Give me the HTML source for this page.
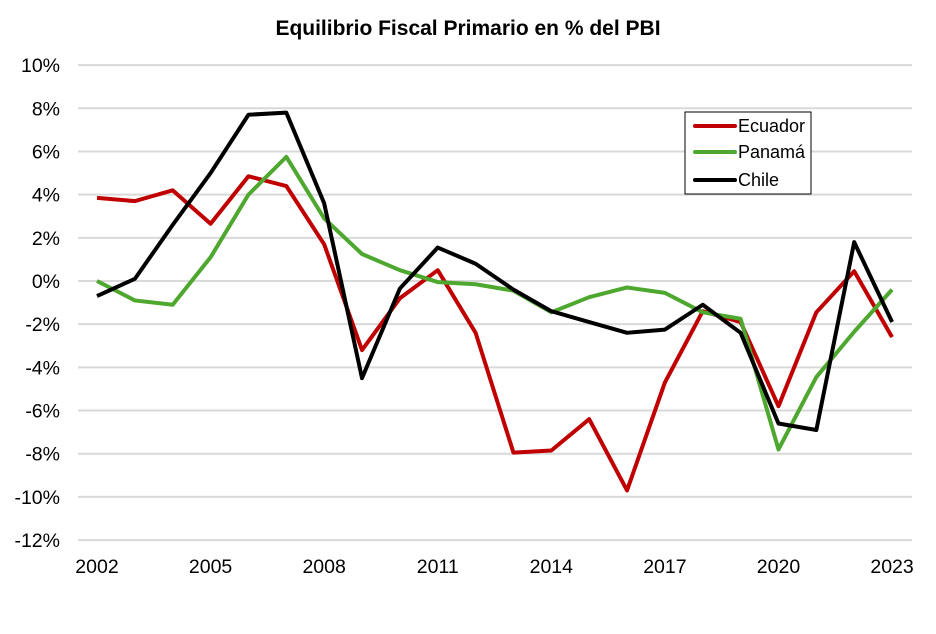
<!DOCTYPE html>
<html><head><meta charset="utf-8"><style>body{margin:0;background:#fff}svg{display:block}text{font-family:"Liberation Sans",Arial,sans-serif}</style></head>
<body>
<svg id="s" width="936" height="634" xmlns="http://www.w3.org/2000/svg">
<text x="468" y="35" text-anchor="middle" font-size="21" font-weight="bold">Equilibrio Fiscal Primario en % del PBI</text>
<g id="grid"></g>
<g id="lines" fill="none" stroke-width="4" stroke-linejoin="round"></g>
<rect x="685" y="112" width="126" height="82" fill="#fff" stroke="#000" stroke-width="1"/>
<line x1="695" y1="126" x2="735" y2="126" stroke="#c00000" stroke-width="4" stroke-linecap="round"/>
<line x1="695" y1="152" x2="735" y2="152" stroke="#4ea72e" stroke-width="4" stroke-linecap="round"/>
<line x1="695" y1="180" x2="735" y2="180" stroke="#000" stroke-width="4" stroke-linecap="round"/>
<text x="738" y="132" font-size="18">Ecuador</text>
<text x="738" y="158" font-size="18">Panamá</text>
<text x="738" y="186" font-size="18">Chile</text>
</svg>
<script>
const NS="http://www.w3.org/2000/svg";
const Y=v=>281-v*21.59, X=yr=>97+(yr-2002)*37.86;
const g=document.getElementById('grid');
function el(p,t,a,txt){const e=document.createElementNS(NS,t);for(const k in a)e.setAttribute(k,a[k]);if(txt!=null)e.textContent=txt;p.appendChild(e);return e;}
for(let v=10;v>=-12;v-=2){el(g,'line',{x1:78,x2:912,y1:Y(v),y2:Y(v),stroke:'#d9d9d9','stroke-width':2});
el(g,'text',{x:60,y:Y(v)+7,'text-anchor':'end','font-size':19.5},v+'%');}
for(let yr=2002;yr<=2023;yr+=3)el(g,'text',{x:X(yr),y:573,'text-anchor':'middle','font-size':19.5},yr);
const d={
'#c00000':[3.85,3.7,4.2,2.65,4.85,4.4,1.7,-3.2,-0.8,0.5,-2.4,-7.95,-7.85,-6.4,-9.7,-4.7,-1.4,-1.9,-5.8,-1.45,0.45,-2.6],
'#4ea72e':[0,-0.9,-1.1,1.1,4.0,5.75,2.9,1.25,0.5,-0.05,-0.15,-0.45,-1.45,-0.75,-0.3,-0.55,-1.45,-1.75,-7.8,-4.45,-2.35,-0.4],
'#000000':[-0.7,0.1,2.6,5.0,7.7,7.8,3.6,-4.5,-0.35,1.55,0.8,-0.4,-1.4,-1.9,-2.4,-2.25,-1.1,-2.4,-6.6,-6.9,1.8,-1.9]};
const L=document.getElementById('lines');
for(const c in d)el(L,'polyline',{stroke:c,points:d[c].map((v,i)=>X(2002+i)+','+Y(v)).join(' ')});
</script>
</body></html>
